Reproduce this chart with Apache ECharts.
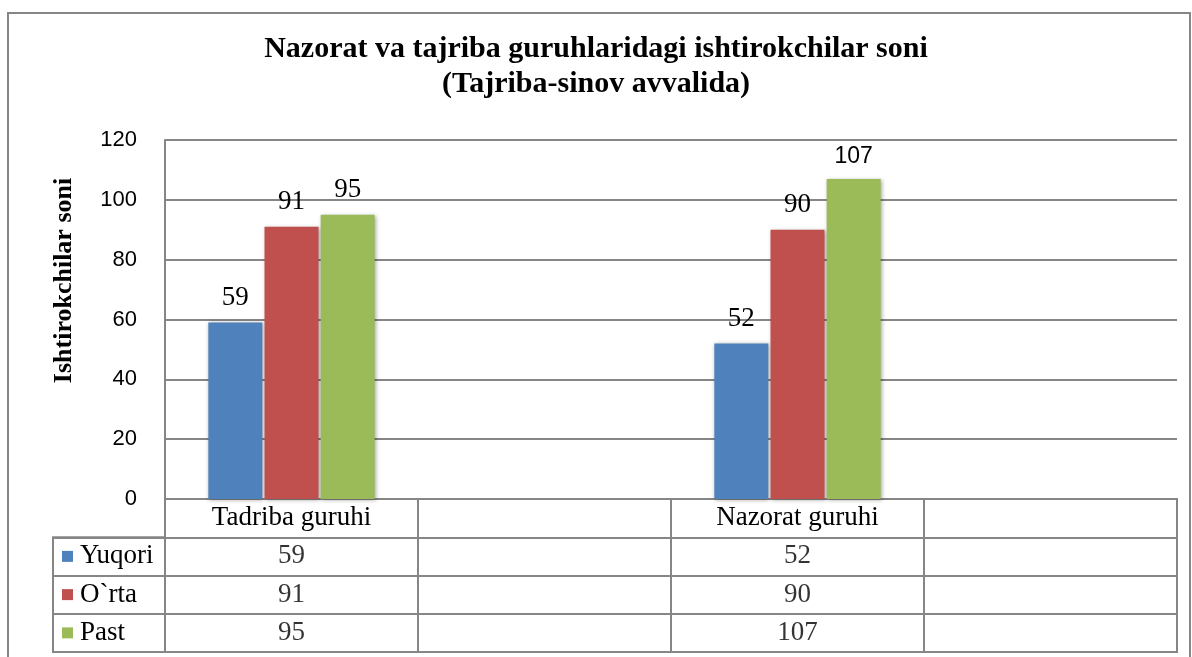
<!DOCTYPE html>
<html>
<head>
<meta charset="utf-8">
<script src="https://cdn.jsdelivr.net/npm/echarts@6/dist/echarts.min.js"></script>
<style>
html,body{margin:0;padding:0;background:#fff;}
#chart{width:1192px;height:657px;}
</style>
</head>
<body>
<div id="chart"></div>
<script>
// ---- data ----
const categories = ['Tadriba guruhi', '', 'Nazorat guruhi', ''];
const seriesNames = ['Yuqori', 'O`rta', 'Past'];
const yuqori = [59, null, 52, null];
const orta = [91, null, 90, null];
const past = [95, null, 107, null];
const yTicks = { min: 0, max: 120, interval: 20 };
const titleLines = ['Nazorat va tajriba guruhlaridagi ishtirokchilar soni', '(Tajriba-sinov avvalida)'];
const yAxisName = 'Ishtirokchilar soni';

// ---- styles ----
const colors = ['#4F81BD', '#C0504D', '#9BBB59'];
const gridColor = '#868686';
const serif = '"Liberation Serif", "Times New Roman", serif';
const sans = '"Liberation Sans", Arial, sans-serif';

const plotLeft = 165, plotRight = 1177, plotTop = 140, plotBottom = 499;
const tableBottom = 652, legendLeft = 53;
const W = 1192, H = 657;
const rowH = (tableBottom - plotBottom) / 4;

const allSeries = [yuqori, orta, past];

const chart = echarts.init(document.getElementById('chart'), null, { renderer: 'canvas' });

const barSeries = allSeries.map((vals, si) => ({
  name: seriesNames[si],
  type: 'bar',
  xAxisIndex: 0,
  yAxisIndex: 0,
  barWidth: 54,
  barGap: '4%',
  data: vals.map((v, ci) => {
    if (v === null) return '-';
    const item = { value: v };
    // the top "107" label is drawn in a sans face in the reference
    if (si === 2 && ci === 2) item.label = { fontFamily: sans, fontSize: 23 };
    return item;
  }),
  itemStyle: {
    color: colors[si],
    shadowBlur: 4,
    shadowColor: 'rgba(0,0,0,0.35)',
    shadowOffsetX: 1,
    shadowOffsetY: 1
  },
  label: {
    show: true,
    position: 'top',
    distance: 11,
    color: '#000',
    fontFamily: serif,
    fontSize: 27
  }
}));

// table cells (values) drawn through category axes of the table grid
const cellData = [];
allSeries.forEach((vals, si) => {
  vals.forEach((v, ci) => {
    if (v !== null) cellData.push([ci, si + 1, v]);
  });
});

const tableSeries = {
  type: 'scatter',
  xAxisIndex: 1,
  yAxisIndex: 1,
  symbol: 'rect',
  symbolSize: 1,
  itemStyle: { color: 'rgba(0,0,0,0)' },
  silent: true,
  data: cellData,
  label: {
    show: true,
    position: 'inside',
    formatter: p => String(p.value[2]),
    color: '#000',
    fontFamily: serif,
    fontSize: 27
  }
};

const rich = { t: { fontFamily: serif, fontSize: 27, color: '#000', padding: [0, 0, 0, 7] } };
colors.forEach((c, i) => {
  rich['sq' + i] = { backgroundColor: c, width: 11, height: 11 };
});

const option = {
  animation: false,
  backgroundColor: '#fff',
  title: {
    text: titleLines.join('\n'),
    left: 'center',
    top: 27,
    textStyle: {
      fontFamily: serif,
      fontWeight: 'bold',
      fontSize: 30,
      lineHeight: 35,
      color: '#000'
    }
  },
  graphic: [{
    type: 'rect',
    shape: { x: 8, y: 13, width: 1182, height: 700 },
    style: { fill: 'none', stroke: gridColor, lineWidth: 2 },
    silent: true,
    z: -1
  }],
  grid: [
    { left: plotLeft, right: W - plotRight, top: plotTop, bottom: H - plotBottom },
    { left: plotLeft, right: W - plotRight, top: plotBottom, bottom: H - tableBottom,
      show: true, borderColor: gridColor, borderWidth: 2, backgroundColor: 'transparent' },
    { left: legendLeft, width: plotLeft - legendLeft, top: plotBottom + rowH, bottom: H - tableBottom,
      show: true, borderColor: gridColor, borderWidth: 2, backgroundColor: 'transparent' }
  ],
  xAxis: [
    {
      gridIndex: 0,
      type: 'category',
      data: categories,
      axisLine: { show: true, lineStyle: { color: gridColor, width: 2 } },
      axisTick: { show: false },
      axisLabel: { color: '#000', fontFamily: serif, fontSize: 27, margin: 5 },
      splitLine: { show: false }
    },
    {
      gridIndex: 1,
      type: 'category',
      data: categories,
      axisLine: { show: false },
      axisTick: { show: false },
      axisLabel: { show: false },
      splitLine: { show: true, lineStyle: { color: gridColor, width: 2 } }
    },
    {
      gridIndex: 2,
      type: 'value',
      show: false
    }
  ],
  yAxis: [
    {
      gridIndex: 0,
      type: 'value',
      min: yTicks.min,
      max: yTicks.max,
      interval: yTicks.interval,
      name: yAxisName,
      nameLocation: 'middle',
      nameRotate: 90,
      nameGap: 88,
      nameTextStyle: { fontFamily: serif, fontWeight: 'bold', fontSize: 26, color: '#000', padding: [0, 0, 0, 78] },
      axisLine: { show: true, lineStyle: { color: gridColor, width: 2 } },
      axisTick: { show: false },
      axisLabel: { color: '#000', fontFamily: sans, fontSize: 22, margin: 28 },
      splitLine: { show: true, lineStyle: { color: gridColor, width: 2 } }
    },
    {
      gridIndex: 1,
      type: 'category',
      inverse: true,
      data: [''].concat(seriesNames),
      axisLine: { show: false },
      axisTick: { show: false },
      axisLabel: { show: false },
      splitLine: { show: true, lineStyle: { color: gridColor, width: 2 } }
    },
    {
      gridIndex: 2,
      type: 'category',
      inverse: true,
      data: seriesNames,
      axisLine: { show: false },
      axisTick: { show: false },
      axisLabel: {
        inside: true,
        margin: 9,
        formatter: (val, idx) => '{sq' + idx + '|}{t|' + val + '}',
        rich: rich
      },
      splitLine: { show: true, lineStyle: { color: gridColor, width: 2 } }
    }
  ],
  series: barSeries.concat([tableSeries])
};

chart.setOption(option);
</script>
</body>
</html>
